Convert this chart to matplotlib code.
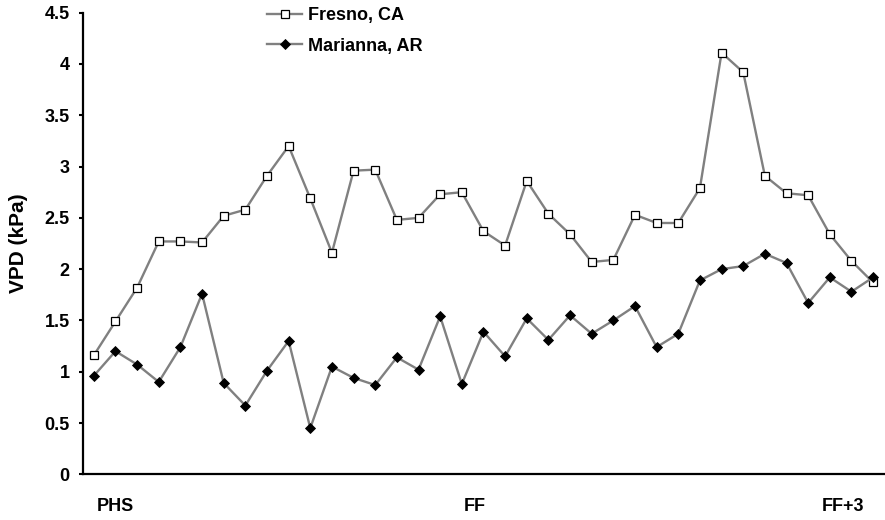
import matplotlib.pyplot as plt
from matplotlib.ticker import MultipleLocator, FuncFormatter

plt.rcParams["font.family"] = ["Liberation Sans", "DejaVu Sans"]
plt.rcParams["font.weight"] = "bold"

# daily vapour pressure deficit, PHS through FF+3
fresno = [1.16, 1.49, 1.82, 2.27, 2.27, 2.26, 2.52, 2.58, 2.91, 3.20,
          2.69, 2.16, 2.96, 2.97, 2.48, 2.50, 2.73, 2.75, 2.37, 2.23,
          2.86, 2.54, 2.34, 2.07, 2.09, 2.53, 2.45, 2.45, 2.79, 4.11,
          3.92, 2.91, 2.74, 2.72, 2.34, 2.08, 1.87]
marianna = [0.96, 1.20, 1.07, 0.90, 1.24, 1.76, 0.89, 0.67, 1.01, 1.30,
            0.45, 1.05, 0.94, 0.87, 1.14, 1.02, 1.54, 0.88, 1.39, 1.15,
            1.52, 1.31, 1.55, 1.37, 1.50, 1.64, 1.24, 1.37, 1.89, 2.00,
            2.03, 2.15, 2.06, 1.67, 1.92, 1.78, 1.92]
stage_labels = ["PHS", "FF", "FF+3"]
stage_pos = [1.0, 17.6, 34.6]

days = list(range(len(fresno)))

fig = plt.figure(figsize=(8.85, 5.2), dpi=100)
ax = fig.add_axes([83 / 885, 45.7 / 520, 1 - 83 / 885, (474.3 - 12.7) / 520])

ax.plot(days, fresno, color="#808080", lw=1.7, marker="s", ms=5.2,
        mfc="white", mec="black", mew=0.9, label="Fresno, CA")
ax.plot(days, marianna, color="#808080", lw=1.7, marker="D", ms=4.8,
        mfc="black", mec="black", mew=0.6, label="Marianna, AR")

ax.set_xlim(-0.5, 36.55)
ax.set_ylim(0, 4.5)
ax.yaxis.set_major_locator(MultipleLocator(0.5))
ax.yaxis.set_major_formatter(FuncFormatter(lambda v, _: f"{v:g}"))
ax.set_xticks(stage_pos)
ax.set_xticklabels(stage_labels)

for side in ("top", "right"):
    ax.spines[side].set_visible(False)
for side in ("left", "bottom"):
    ax.spines[side].set_linewidth(1.6)
ax.tick_params(axis="y", direction="out", length=3, width=1.5, pad=6.5,
               labelsize=13)
ax.tick_params(axis="x", length=0, pad=17, labelsize=13)
for lbl in ax.get_xticklabels() + ax.get_yticklabels():
    lbl.set_fontweight("bold")

ax.set_ylabel("VPD (kPa)", fontsize=15, fontweight="bold", labelpad=12)

ax.legend(loc="upper left", bbox_to_anchor=(267 / 885, 1 - 7 / 520),
          bbox_transform=fig.transFigure, frameon=False,
          handlelength=1.95, handletextpad=0.3, labelspacing=0.75,
          borderpad=0, borderaxespad=0, prop={"weight": "bold", "size": 13})

fig.savefig("out.png", dpi=100)
